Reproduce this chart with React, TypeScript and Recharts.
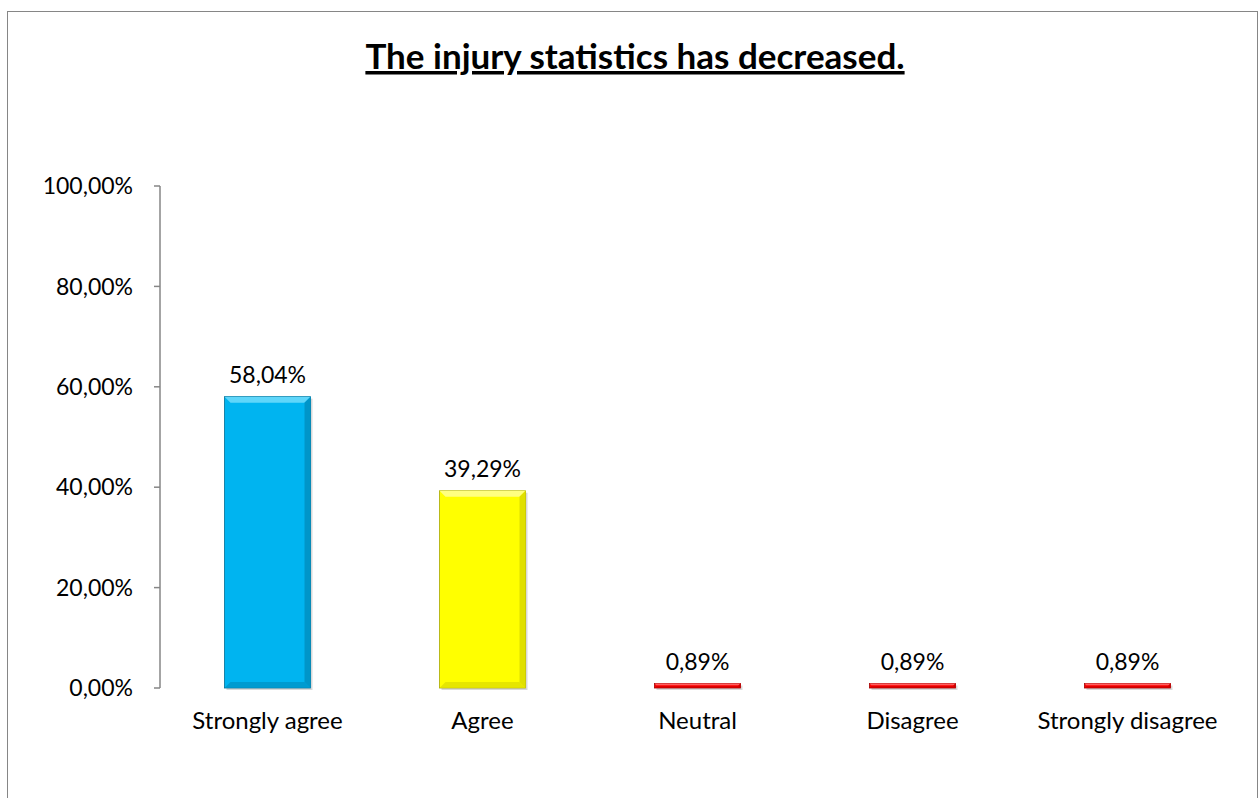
import React from "react";
import { BarChart, Bar, XAxis, YAxis, Cell, LabelList } from "recharts";

const categories = ["Strongly agree", "Agree", "Neutral", "Disagree", "Strongly disagree"];
const values = [0.5804, 0.3929, 0.0089, 0.0089, 0.0089];
const yTicks = [0, 0.2, 0.4, 0.6, 0.8, 1.0];
const boundaryTicks = [0, 1, 2, 3, 4, 5];
const title = "The injury statistics has decreased.";

const barColors = [
  { main: "#00B4F0", light: "#5FD6FA", dark: "#0095C8", edge: "#006E94" },
  { main: "#FFFF00", light: "#FFFF80", dark: "#E0E000", edge: "#A8A800" },
  { main: "#FF0000", light: "#FF6060", dark: "#CC0000", edge: "#A00000" },
  { main: "#FF0000", light: "#FF6060", dark: "#CC0000", edge: "#A00000" },
  { main: "#FF0000", light: "#FF6060", dark: "#CC0000", edge: "#A00000" },
];

const data = categories.map((name, i) => ({ name, value: values[i], idx: i }));

const fmt = (v: number) => (v * 100).toFixed(2).replace(".", ",") + "%";

const FONT = "Lato, 'Open Sans', sans-serif";

const BevelBar = (props: any) => {
  const { x, y, width, height, index } = props;
  if (width == null || height == null) return null;
  const c = barColors[index] || barColors[0];
  const b = Math.max(0, Math.min(6, height / 2 - 0.5));
  return (
    <g>
      <rect x={x + 2} y={y + 2} width={width} height={height} fill="rgba(0,0,0,0.15)" />
      <rect x={x} y={y} width={width} height={height} fill={c.main} stroke={c.edge} strokeWidth={0.8} />
      {b > 0.5 && (
        <>
          <polygon points={`${x},${y} ${x + width},${y} ${x + width - b},${y + b} ${x + b},${y + b}`} fill={c.light} />
          <polygon points={`${x + width},${y} ${x + width},${y + height} ${x + width - b},${y + height - b} ${x + width - b},${y + b}`} fill={c.dark} />
          <polygon points={`${x},${y + height} ${x + width},${y + height} ${x + width - b},${y + height - b} ${x + b},${y + height - b}`} fill={c.dark} opacity={0.8} />
        </>
      )}
    </g>
  );
};

export default function App() {
  return (
    <div style={{ position: "absolute", left: 0, top: 0, width: 1260, height: 798, background: "#fff", overflow: "hidden" }}>
      <div
        style={{
          position: "absolute",
          left: 7,
          top: 11,
          width: 1251,
          height: 800,
          border: "1.5px solid #868686",
          boxSizing: "border-box",
        }}
      />
      <svg style={{ position: "absolute", left: 0, top: 0 }} width={1260} height={100}>
        <text
          x={635}
          y={69}
          textAnchor="middle"
          fontFamily={FONT}
          fontWeight={700}
          fontSize={35}
          fill="#000"
          style={{ textDecoration: "underline" }}
        >
          {title}
        </text>
      </svg>
      <div style={{ position: "absolute", left: 0, top: 0 }}>
        <BarChart
          width={1260}
          height={798}
          data={data}
          margin={{ top: 186, right: 25, left: 10, bottom: 80 }}
          barCategoryGap="30%"
        >
          <XAxis
            dataKey="name"
            xAxisId="cat"
            axisLine={false}
            tickLine={false}
            interval={0}
            tickMargin={18}
            height={30}
            tick={{ fill: "#000", fontSize: 24, fontFamily: FONT }}
          />
          <XAxis
            xAxisId="num"
            type="number"
            domain={[0, 5]}
            ticks={boundaryTicks}
            tick={false}
            axisLine={{ stroke: "#868686", strokeWidth: 1.5 }}
            tickLine={{ stroke: "#868686", strokeWidth: 1.5 }}
            tickSize={6}
            height={0}
          />
          <YAxis
            domain={[0, 1]}
            ticks={yTicks}
            tickFormatter={fmt}
            width={150}
            axisLine={{ stroke: "#868686", strokeWidth: 1.5 }}
            tickLine={{ stroke: "#868686", strokeWidth: 1.5 }}
            tickSize={6}
            tickMargin={21}
            tick={{ fill: "#000", fontSize: 23, fontFamily: FONT }}
          />
          <Bar dataKey="value" xAxisId="cat" isAnimationActive={false} shape={<BevelBar />}>
            {data.map((d, i) => (
              <Cell key={i} fill={barColors[i].main} />
            ))}
            <LabelList
              dataKey="value"
              position="top"
              offset={14}
              formatter={(v: any) => fmt(Number(v))}
              style={{ fill: "#000", fontSize: 23, fontFamily: FONT }}
            />
          </Bar>
        </BarChart>
      </div>
    </div>
  );
}
